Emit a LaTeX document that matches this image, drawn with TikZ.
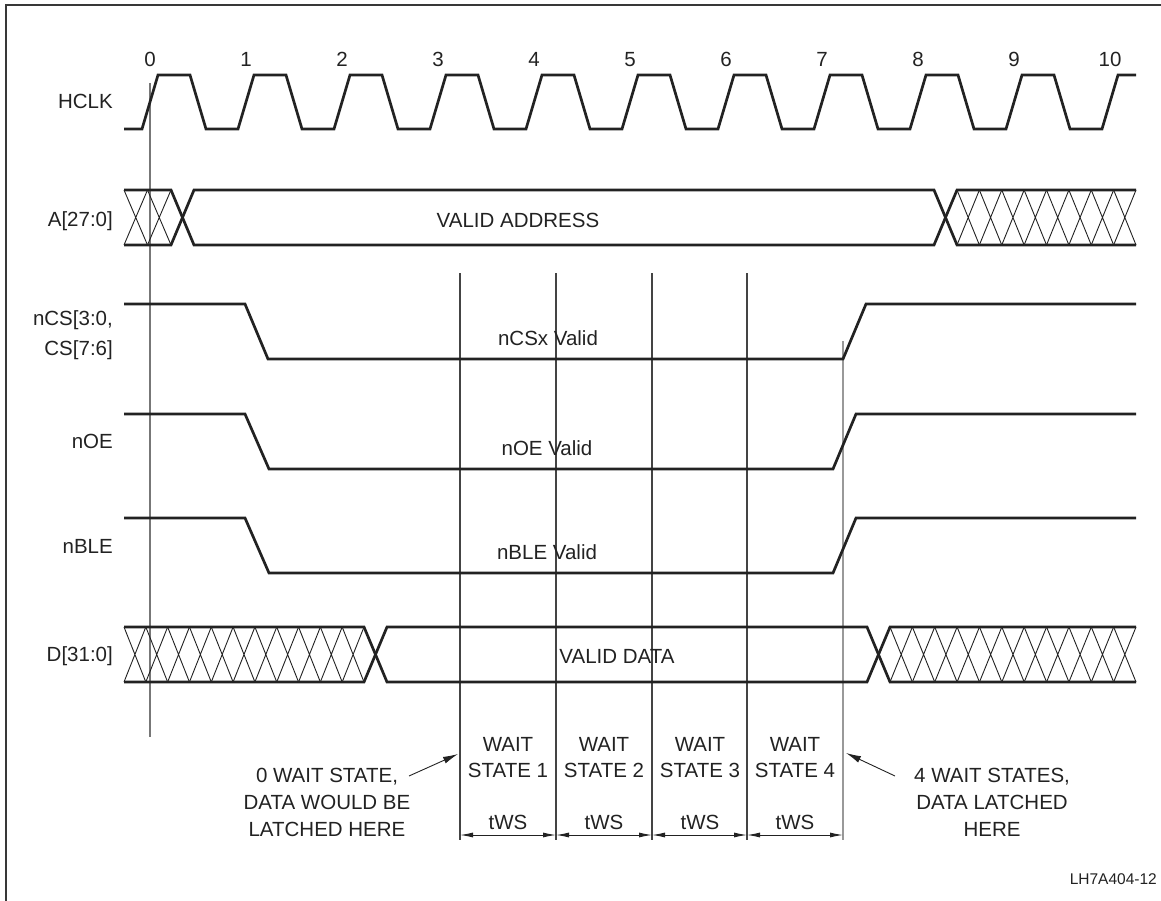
\documentclass[tikz,border=0pt]{standalone}
\usepackage{fontspec}
\setmainfont{Liberation Sans}
\usetikzlibrary{arrows.meta}

\definecolor{ink}{HTML}{222222}
\definecolor{guidegray}{HTML}{777777}
\definecolor{guidedark}{HTML}{444444}
\definecolor{guidelight}{HTML}{999999}

\tikzset{
    sig/.style={line width=2.7pt, draw=ink},
    hatch/.style={line width=0.9pt, draw=ink},
    guideline/.style={line width=1.1pt, draw=#1},
    lbl/.style={text=ink, inner sep=0pt, font=\fontsize{20.5}{26.5}\selectfont},
    signame/.style={lbl, anchor=base east, align=right},
    note/.style={lbl, align=center},
    dim/.style={line width=0.9pt, draw=ink, {Latex[length=13pt,width=5pt]}-{Latex[length=13pt,width=5pt]}},
    callout/.style={line width=0.9pt, draw=ink, -{Latex[length=15pt,width=7pt]}},
}

\newcommand\xhatch[5]{%
    \pgfmathsetmacro\hatchw{(#2-#1)/#3}
    \foreach \k in {1,...,#3}{
        \draw[hatch] ({#1+(\k-1)*\hatchw},#4) -- ({#1+\k*\hatchw},#5)
                     ({#1+(\k-1)*\hatchw},#5) -- ({#1+\k*\hatchw},#4);
    }}

\begin{document}
\begin{tikzpicture}[x=1pt, y=-1pt]

\useasboundingbox (0,0) rectangle (1161,901);
\draw[line width=1.5pt, draw=ink!90] (1161,5) -- (6,5) -- (6,901);

\draw[guideline=guidegray] (150,83) -- (150,737);
\foreach \x in {460,556,652,747}
    \draw[guideline=guidedark] (\x,273) -- (\x,840);
\draw[guideline=guidelight] (843,341) -- (843,840);

\foreach \i in {0,...,10}
    \node[lbl, anchor=base] (t\i) at ({150+96*\i},67) {\i};

\node[signame] (lhclk) at (113,109) {HCLK};
\node[signame] (laddr) at (113,227) {A[27:0]};
\node[signame, anchor=north east, font=\fontsize{20.5}{30}\selectfont] (lncs) at (113,310) {nCS[3:0,\\CS[7:6]};
\node[signame] (lnoe) at (113,448) {nOE};
\node[signame] (lnble) at (113,553) {nBLE};
\node[signame] (ldata) at (113,661) {D[31:0]};

\draw[sig] (124,129) \foreach \i in {0,...,9} {
        -- ({142+96*\i},129) -- ({158+96*\i},75) -- ({190+96*\i},75) -- ({206+96*\i},129)
    } -- (1102,129) -- (1118,75) -- (1136,75);

\draw[sig] (124,190) -- (171,190) -- (194,245) -- (934,245) -- (957,190) -- (1136,190);
\draw[sig] (124,245) -- (171,245) -- (194,190) -- (934,190) -- (957,245) -- (1136,245);
\xhatch{124}{171}{2}{190}{245}
\xhatch{957}{1136}{8}{190}{245}
\node[lbl, anchor=base] (vaddr) at (518,228) {VALID ADDRESS};

\draw[sig] (124,304) -- (245,304) -- (268,359) -- (843,359) -- (866,304) -- (1136,304);
\node[lbl, anchor=base] (vncs) at (548,345.5) {nCSx Valid};

\draw[sig] (124,414) -- (245,414) -- (269,469) -- (833,469) -- (856,414) -- (1136,414);
\node[lbl, anchor=base] (vnoe) at (547,455.5) {nOE Valid};

\draw[sig] (124,518) -- (245,518) -- (269,573) -- (833,573) -- (856,518) -- (1136,518);
\node[lbl, anchor=base] (vnble) at (547,559.5) {nBLE Valid};

\draw[sig] (124,627) -- (364,627) -- (387,682) -- (867,682) -- (890,627) -- (1136,627);
\draw[sig] (124,682) -- (364,682) -- (387,627) -- (867,627) -- (890,682) -- (1136,682);
\xhatch{124}{364}{11}{627}{682}
\xhatch{890}{1136}{11}{627}{682}
\node[lbl, anchor=base] (vdata) at (617,663.5) {VALID DATA};

\foreach \i/\x in {0/460,1/556,2/652,3/747,4/843}
    \coordinate (w\i) at (\x,835);
\foreach \a/\b in {0/1,1/2,2/3,3/4}
    \draw[dim] (w\a) -- (w\b);

\foreach \i/\x in {1/508,2/604,3/700,4/795}{
    \node[note, anchor=north, font=\fontsize{20.5}{26}\selectfont] (ws\i) at (\x,737.3) {WAIT\\STATE \i};
    \node[lbl, anchor=base] (tws\i) at (\x,829) {tWS};
}

\node[note, anchor=north, font=\fontsize{20.5}{27}\selectfont] (latchzero) at (327,768.3) {0 WAIT STATE,\\DATA WOULD BE\\LATCHED HERE};
\coordinate (latchzerofrom) at (409,776);
\coordinate (latchzeroto) at (458,754);
\draw[callout] (latchzerofrom) -- (latchzeroto);

\node[note, anchor=north, font=\fontsize{20.5}{27}\selectfont] (latchfour) at (992,768.3) {4 WAIT STATES,\\DATA LATCHED\\HERE};
\coordinate (latchfourfrom) at (895,776);
\coordinate (latchfourto) at (846,753);
\draw[callout] (latchfourfrom) -- (latchfourto);

\node[lbl, anchor=base east, font=\fontsize{15.5}{18}\selectfont] (figid) at (1157,884.5) {LH7A404-12};

\end{tikzpicture}
\end{document}
